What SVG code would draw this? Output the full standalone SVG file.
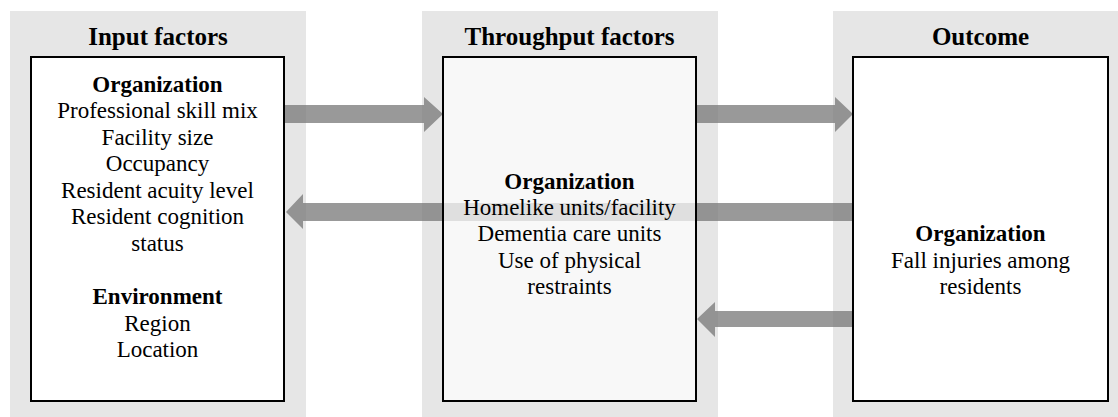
<svg xmlns="http://www.w3.org/2000/svg" width="1118" height="417" viewBox="0 0 1118 417">
<style>
.panel{fill:#e6e6e6}
.box{fill:#fff;stroke:#000;stroke-width:2}
.mid{fill:#fff;fill-opacity:0.7;stroke:#000;stroke-width:2}
.arrow{fill:#777;fill-opacity:0.75}
text{font-family:"Liberation Serif","Times New Roman",serif;text-anchor:middle;fill:#000}
.title{font-size:25px;font-weight:bold}
.head{font-size:23px;font-weight:bold}
.body{font-size:23px}
</style>
<rect width="1118" height="417" fill="#fff"/>
<g id="panels">
<rect class="panel" x="10" y="11" width="296" height="406"/>
<rect class="panel" x="422" y="11" width="296" height="406"/>
<rect class="panel" x="833" y="11" width="285" height="406"/>
</g>
<g id="connectors">
<polygon class="arrow" points="284,105 424,105 424,97 443,114 424,132 424,123 284,123"/>
<polygon class="arrow" points="696,105 835,105 835,97 853,114 835,132 835,123 696,123"/>
<polygon class="arrow" points="853,203 303,203 303,194 286,212 303,229 303,221 853,221"/>
<polygon class="arrow" points="853,311 715,311 715,302 697,319 715,337 715,327 853,327"/>
</g>
<g id="input">
<text class="title" x="158" y="45">Input factors</text>
<rect class="box" x="31" y="57" width="253" height="344"/>
<text class="head" x="157.5" y="92">Organization</text>
<text class="body" x="157.5" y="118">Professional skill mix</text>
<text class="body" x="157.5" y="145">Facility size</text>
<text class="body" x="157.5" y="171">Occupancy</text>
<text class="body" x="157.5" y="198">Resident acuity level</text>
<text class="body" x="157.5" y="224">Resident cognition</text>
<text class="body" x="157.5" y="251">status</text>
<text class="head" x="157.5" y="304">Environment</text>
<text class="body" x="157.5" y="331">Region</text>
<text class="body" x="157.5" y="357">Location</text>
</g>
<g id="throughput">
<text class="title" x="569.5" y="45">Throughput factors</text>
<rect class="mid" x="443" y="57" width="253" height="344"/>
<text class="head" x="569.5" y="189">Organization</text>
<text class="body" x="569.5" y="215">Homelike units/facility</text>
<text class="body" x="569.5" y="241">Dementia care units</text>
<text class="body" x="569.5" y="268">Use of physical</text>
<text class="body" x="569.5" y="294">restraints</text>
</g>
<g id="outcome">
<text class="title" x="980.5" y="45">Outcome</text>
<rect class="box" x="853" y="57" width="255" height="344"/>
<text class="head" x="980.5" y="241">Organization</text>
<text class="body" x="980.5" y="268">Fall injuries among</text>
<text class="body" x="980.5" y="294">residents</text>
</g>
</svg>
